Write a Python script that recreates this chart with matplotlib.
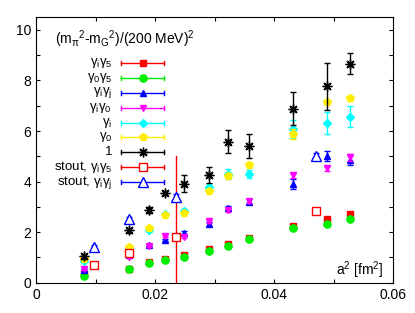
import matplotlib
matplotlib.use("Agg")
import matplotlib.pyplot as plt
from matplotlib.ticker import MultipleLocator

plt.rcParams['font.family'] = ['Liberation Sans', 'DejaVu Sans']
plt.rcParams['mathtext.fontset'] = 'custom'
plt.rcParams['mathtext.rm'] = 'Liberation Sans'
plt.rcParams['mathtext.it'] = 'Liberation Sans'
plt.rcParams['mathtext.bf'] = 'Liberation Sans'

# ---- data ----
a2 = [0.0081, 0.0156, 0.0190, 0.0217, 0.0249, 0.0291, 0.0323, 0.0358, 0.0432, 0.0489, 0.0527]
gig5 = [0.33, 0.55, 0.80, 0.95, 1.08, 1.32, 1.53, 1.78, 2.26, 2.52, 2.72]
gig5_err = [0.03, 0.03, 0.03, 0.03, 0.04, 0.04, 0.05, 0.05, 0.06, 0.06, 0.06]
g0g5 = [0.27, 0.54, 0.77, 0.90, 1.02, 1.24, 1.45, 1.73, 2.15, 2.31, 2.52]
g0g5_err = [0.03, 0.03, 0.03, 0.03, 0.04, 0.04, 0.05, 0.05, 0.06, 0.06, 0.06]
gigj = [0.50, 1.10, 1.50, 1.68, 1.98, 2.31, 2.96, 3.20, 3.90, 5.01, 4.85]
gigj_err = [0.05, 0.05, 0.05, 0.05, 0.06, 0.08, 0.08, 0.10, 0.20, 0.20, 0.20]
gig0 = [0.54, 1.00, 1.45, 1.85, 1.82, 2.44, 2.88, 3.23, 4.25, 4.53, 4.96]
gig0_err = [0.04, 0.04, 0.05, 0.05, 0.06, 0.06, 0.07, 0.08, 0.10, 0.10, 0.15]
gi = [0.85, 1.35, 2.08, 2.70, 2.82, 3.80, 4.30, 4.30, 6.07, 6.33, 6.57]
gi_err = [0.05, 0.05, 0.06, 0.06, 0.08, 0.10, 0.20, 0.15, 0.35, 0.43, 0.41]
g0 = [0.93, 1.43, 2.15, 2.68, 2.77, 3.63, 4.23, 4.66, 5.88, 7.16, 7.30]
g0_err = [0.05, 0.05, 0.05, 0.05, 0.06, 0.08, 0.10, 0.10, 0.20, 0.10, 0.10]
one = [1.05, 2.08, 2.88, 3.54, 3.92, 4.26, 5.58, 5.41, 6.89, 7.78, 8.67]
one_err = [0.10, 0.10, 0.12, 0.08, 0.35, 0.33, 0.46, 0.46, 0.66, 0.93, 0.43]

stout_a2 = [0.0097, 0.0156, 0.0235, 0.0471]
stout_gig5 = [0.71, 1.19, 1.80, 2.83]
stout_gig5_err = [0.04, 0.05, 0.06, 0.06]
stout_gigj = [1.42, 2.51, 3.40, 5.01]
stout_gigj_err = [0.06, 0.10, 0.10, 0.12]

vline_x = 0.0235
vline_top = 5.0

labels = [r'$\gamma_i\gamma_5$', r'$\gamma_0\gamma_5$', r'$\gamma_i\gamma_j$', r'$\gamma_i\gamma_0$',
          r'$\gamma_i$', r'$\gamma_0$', '1', r'stout, $\gamma_i\gamma_5$', r'stout, $\gamma_i\gamma_j$']

# ---- figure ----
fig = plt.figure(figsize=(4.15, 3.13), dpi=100)
ax = fig.add_axes([36/415, 1-282.7/313, (393-36)/415, (282.7-17.3)/313])

series = [
    (gig5, gig5_err, 'red', 's', 4.8),
    (g0g5, g0g5_err, '#00ee00', 'o', 5.2),
    (gigj, gigj_err, 'blue', '^', 5.0),
    (gig0, gig0_err, 'magenta', 'v', 5.0),
    (gi, gi_err, 'cyan', 'D', 4.5),
    (g0, g0_err, '#ffee00', 'p', 5.8),
    (one, one_err, 'black', (8, 2, 0), 7.0),
]
stouts = [
    (stout_gig5, stout_gig5_err, 'red', 's', 6.3),
    (stout_gigj, stout_gigj_err, 'blue', '^', 6.5),
]

ax.plot([vline_x, vline_x], [0, vline_top], color='red', lw=1.0, zorder=1)

for i, (y, e, c, m, ms) in enumerate(series):
    ax.errorbar(a2, y, yerr=e, fmt='none', ecolor=c, elinewidth=1.0, capsize=2, capthick=1.0, zorder=2+i)
    ax.plot(a2, y, ls='none', marker=m, ms=ms, color=c, mec=c, mew=1.0, zorder=2+i)
for j, (y, e, c, m, ms) in enumerate(stouts):
    ax.errorbar(stout_a2, y, yerr=e, fmt='none', ecolor=c, elinewidth=1.0, capsize=2, capthick=1.0, zorder=10+j)
    ax.plot(stout_a2, y, ls='none', marker=m, ms=ms, mfc='white', mec=c, mew=1.0, zorder=10+j)

# ---- legend (manual, gnuplot style) ----
rows_px = [62.7, 78.3, 92.7, 107.7, 122.7, 137.3, 152.3, 167.3, 182.3]
styles = [(c, m, ms, True) for (_, _, c, m, ms) in series] + [(c, m, ms, False) for (_, _, c, m, ms) in stouts]
def fx(px):
    return (px - 36) / (393 - 36)
def fy(py):
    return (282.7 - py) / (282.7 - 17.3)
for lab, ypx, (c, m, ms, filled) in zip(labels, rows_px, styles):
    yy = fy(ypx)
    ax.text(fx(112), yy, lab, transform=ax.transAxes, ha='right', va='center', fontsize=9.5)
    ax.plot([fx(121), fx(164)], [yy, yy], transform=ax.transAxes, color=c, lw=1.0, clip_on=False)
    for xe in (fx(121), fx(164)):
        ax.plot([xe, xe], [yy - 0.008, yy + 0.008], transform=ax.transAxes, color=c, lw=1.0, clip_on=False)
    if filled:
        ax.plot([fx(143)], [yy], transform=ax.transAxes, marker=m, ms=ms, color=c, mec=c, ls='none')
    else:
        ax.plot([fx(143)], [yy], transform=ax.transAxes, marker=m, ms=ms, mfc='white', mec=c, ls='none')

ax.text(fx(55), fy(39.5), r'(m$_\pi$$^2$-m$_G$$^2$)/(200 MeV)$^2$', transform=ax.transAxes,
        ha='left', va='center', fontsize=10)
ax.text(fx(383), fy(270), r'a$^2$ [fm$^2$]', transform=ax.transAxes, ha='right', va='center', fontsize=10)

ax.set_xlim(0, 0.06)
ax.set_ylim(0, 10.5)
ax.xaxis.set_major_locator(MultipleLocator(0.02))
ax.xaxis.set_minor_locator(MultipleLocator(0.01))
ax.yaxis.set_major_locator(MultipleLocator(2))
ax.yaxis.set_minor_locator(MultipleLocator(1))
ax.xaxis.set_major_formatter(matplotlib.ticker.FuncFormatter(lambda v, p: '0' if abs(v) < 1e-12 else f'{v:g}'))
ax.tick_params(which='both', direction='in', top=True, right=True, length=3, width=0.8, labelsize=10)
for sp in ax.spines.values():
    sp.set_linewidth(0.8)

fig.savefig('out.png', dpi=100)
